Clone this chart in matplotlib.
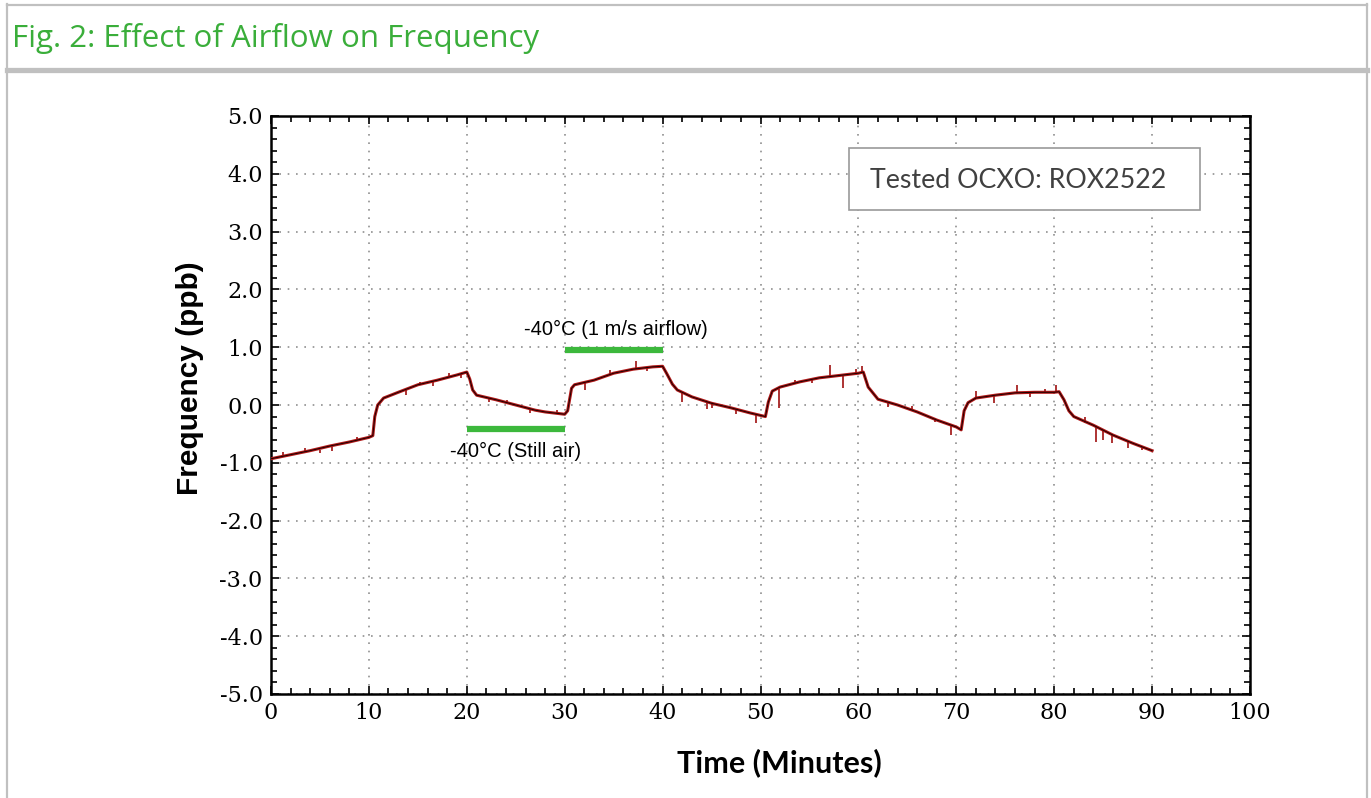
import matplotlib.pyplot as plt
import matplotlib.ticker as mticker
from matplotlib.patches import Rectangle
from matplotlib.lines import Line2D

plt.rcParams['axes.unicode_minus'] = False

# smoothed trace (minutes, ppb)
t_trace = [0, 2, 4, 6, 8, 10, 10.4, 10.6, 10.9, 11.5, 13, 15, 17, 19, 20,
           20.3, 20.6, 21, 23, 25, 27, 28, 30, 30.3, 30.7, 31, 33, 35, 37, 39, 40,
           40.4, 41, 41.5, 43, 45, 47, 49, 50.5, 50.8, 51.2, 52, 54, 56, 58, 60, 60.5,
           61, 62, 64, 66, 68, 70, 70.5, 70.8, 71.2, 72, 74, 76, 78, 80, 80.5,
           81, 81.5, 82, 84, 86, 88, 90]
f_trace = [-0.93, -0.86, -0.79, -0.71, -0.64, -0.56, -0.53, -0.2, 0.0, 0.12, 0.22, 0.35, 0.43, 0.52, 0.57,
           0.45, 0.26, 0.17, 0.09, 0.0, -0.09, -0.12, -0.16, -0.1, 0.29, 0.35, 0.43, 0.55, 0.62, 0.66, 0.67,
           0.55, 0.36, 0.26, 0.14, 0.03, -0.05, -0.14, -0.2, 0.05, 0.24, 0.31, 0.40, 0.47, 0.51, 0.55, 0.57,
           0.31, 0.1, 0.0, -0.12, -0.26, -0.38, -0.43, -0.1, 0.04, 0.12, 0.17, 0.21, 0.22, 0.22, 0.23,
           0.09, -0.1, -0.2, -0.35, -0.52, -0.66, -0.79]

# glitches in the raw data: time, base, tip
spike_t = [1.2, 3.5, 5.0, 6.2, 8.8, 13.8, 15.2, 16.5, 18.2, 19.4, 22.3, 24.1, 26.5, 29.2, 32.1,
           34.6, 37.3, 38.4, 42.0, 44.5, 45.0, 47.5, 49.5, 51.9, 53.5, 55.3, 57.1, 58.4, 59.8, 60.4,
           63.0, 65.5, 67.8, 69.5, 72.0, 73.8, 76.2, 77.5, 79.1, 80.2,
           83.1, 84.3, 85.0, 85.9, 87.5, 89.0]
spike_base = [-0.89, -0.82, -0.77, -0.72, -0.62, 0.26, 0.34, 0.41, 0.48, 0.54, 0.12, 0.03, -0.07, -0.15, 0.40,
              0.53, 0.63, 0.65, 0.20, 0.05, 0.05, -0.07, -0.16, 0.28, 0.37, 0.45, 0.50, 0.51, 0.55, 0.57,
              0.04, -0.09, -0.22, -0.36, 0.12, 0.16, 0.21, 0.22, 0.22, 0.22,
              -0.31, -0.38, -0.43, -0.50, -0.62, -0.72]
spike_tip = [-0.82, -0.74, -0.83, -0.80, -0.56, 0.18, 0.40, 0.33, 0.55, 0.47, 0.05, 0.09, -0.14, -0.08, 0.26,
             0.60, 0.76, 0.58, 0.05, -0.07, -0.05, -0.15, -0.31, -0.05, 0.43, 0.38, 0.69, 0.29, 0.63, 0.68,
             -0.03, -0.02, -0.29, -0.52, 0.24, 0.03, 0.35, 0.14, 0.28, 0.35,
             -0.20, -0.64, -0.60, -0.66, -0.74, -0.78]

# green bars marking the conditions
still_air = [20, 30, -0.42]
airflow = [30, 40, 0.96]

title = 'Fig. 2: Effect of Airflow on Frequency'
box_text = 'Tested OCXO: ROX2522'

W, H = 1371, 798
fig = plt.figure(figsize=(W / 100, H / 100), dpi=100)

# page frame
grey = '#c0c0c0'
fig.add_artist(Line2D([7 / W, 7 / W], [0, 1 - 4 / H], color=grey, lw=1.6, transform=fig.transFigure))
fig.add_artist(Line2D([1367 / W, 1367 / W], [0, 1 - 4 / H], color=grey, lw=1.6, transform=fig.transFigure))
fig.add_artist(Line2D([7 / W, 1367 / W], [1 - 5 / H, 1 - 5 / H], color=grey, lw=1.6, transform=fig.transFigure))
fig.add_artist(Line2D([7 / W, 1367 / W], [1 - 70 / H, 1 - 70 / H], color=grey, lw=3.8, transform=fig.transFigure))
fig.text(12 / W, 1 - 38 / H, title, color='#3aae3a', fontsize=22.5, family='Open Sans', va='center', ha='left')

ax = fig.add_axes([271 / W, 1 - 694 / H, (1250 - 271) / W, (694 - 116) / H])
ax.set_xlim(0, 100)
ax.set_ylim(-5, 5)

ax.plot(t_trace, f_trace, color='#b01818', lw=2.2, zorder=3)
ax.vlines(spike_t, spike_base, spike_tip, color='#a01010', lw=1.2, zorder=3)
ax.plot(t_trace, f_trace, color='#1a0000', lw=0.7, zorder=4)

ax.plot(still_air[:2], [still_air[2]] * 2, color='#3cb83c', lw=4.5, solid_capstyle='butt', zorder=5)
ax.plot(airflow[:2], [airflow[2]] * 2, color='#3cb83c', lw=4.5, solid_capstyle='butt', zorder=5)
ax.text(35.2, 1.30, '-40°C (1 m/s airflow)', fontsize=14.5, family='Liberation Sans', ha='center', va='center')
ax.text(25.0, -0.80, '-40°C (Still air)', fontsize=14.5, family='Liberation Sans', ha='center', va='center')

ax.xaxis.set_major_locator(mticker.MultipleLocator(10))
ax.xaxis.set_minor_locator(mticker.MultipleLocator(2))
ax.yaxis.set_major_locator(mticker.MultipleLocator(1))
ax.yaxis.set_minor_locator(mticker.MultipleLocator(0.2))
ax.yaxis.set_major_formatter(mticker.FormatStrFormatter('%.1f'))
ax.tick_params(which='both', direction='in', top=True, right=True, width=1.2, colors='black')
ax.tick_params(which='major', length=6, labelsize=16, pad=6)
ax.tick_params(which='minor', length=4)
for lab in ax.get_xticklabels() + ax.get_yticklabels():
    lab.set_family('DejaVu Serif')
for s in ax.spines.values():
    s.set_linewidth(1.8)
ax.grid(True, which='major', color='#909090', lw=1.2, linestyle=(0, (1, 4)))

ax.add_patch(Rectangle((849 / W, 1 - 210 / H), 351 / W, 62 / H, transform=fig.transFigure,
                       facecolor='white', edgecolor='#999999', lw=1.2, zorder=6))
fig.text(870 / W, 1 - 180 / H, box_text, fontsize=19.3, family='Lato', color='#404040',
         va='center', ha='left', zorder=7)

fig.text(190 / W, 1 - 378 / H, 'Frequency (ppb)', rotation=90, fontsize=21.5, fontweight='bold',
         family='Liberation Sans', ha='center', va='center')
fig.text(779 / W, 1 - 763 / H, 'Time (Minutes)', fontsize=22, fontweight='bold',
         family='Lato', ha='center', va='center')

fig.savefig('out.png', dpi=100, facecolor='white')
